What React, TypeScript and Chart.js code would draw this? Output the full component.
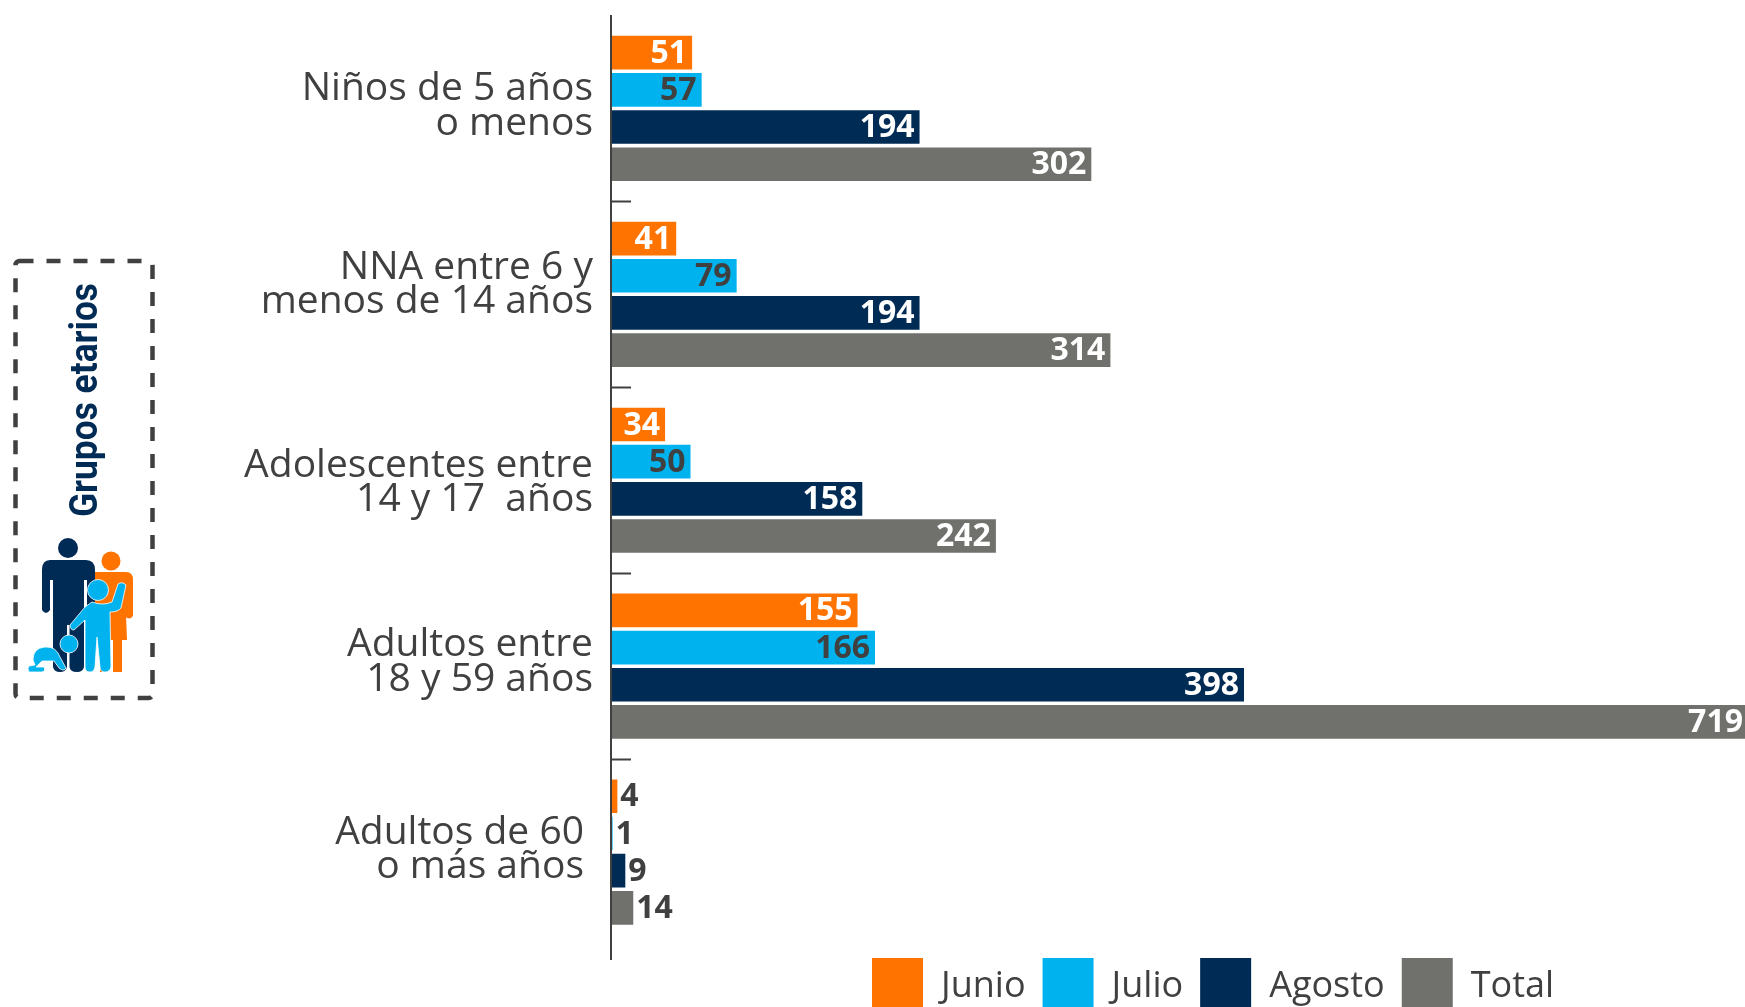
import React, { useEffect, useRef } from "react";
import { Chart, registerables } from "chart.js";

Chart.register(...registerables);

const categories = [
  ["Niños de 5 años", "o menos"],
  ["NNA entre 6 y", "menos de 14 años"],
  ["Adolescentes entre", "14 y 17  años"],
  ["Adultos entre", "18 y 59 años"],
  ["Adultos de 60", "o más años"],
];
const junio = [51, 41, 34, 155, 4];
const julio = [57, 79, 50, 166, 1];
const agosto = [194, 194, 158, 398, 9];
const total = [302, 314, 242, 719, 14];

const ORANGE = "#FF7300";
const BLUE = "#00B3EE";
const NAVY = "#002B55";
const GRAY = "#70716C";
const DARK = "#404040";
const FONT = "'Open Sans', sans-serif";

const W = 1745;
const H = 1007;
const labelDy = [-2, -9.5, 2.5, -4, -2];
const labelDx = [0, 0, 0, 0, -9];

const customLayoutPlugin = {
  id: "customLayout",
  afterLayout(chart: any) {
    const l = chart.legend;
    if (l) {
      l.left = 855;
      l.top = 941;
    }
  },
  beforeDraw(chart: any) {
    const items = chart.scales.y.getLabelItems();
    if (items.__moved) return;
    items.__moved = true;
    items.forEach((it: any, i: number) => {
      it.options.translation = [
        it.options.translation[0] + labelDx[i],
        it.options.translation[1] + labelDy[i],
      ];
    });
  },
  afterDraw(chart: any) {
    const { ctx, chartArea } = chart;
    ctx.save();
    ctx.strokeStyle = DARK;
    ctx.lineWidth = 2;
    ctx.beginPath();
    ctx.moveTo(chartArea.left, chartArea.bottom);
    ctx.lineTo(chartArea.left, 960);
    ctx.stroke();
    ctx.restore();
  },
};

const barLabelPlugin = {
  id: "barLabels",
  afterDatasetsDraw(chart: any) {
    const { ctx } = chart;
    ctx.save();
    ctx.font = `700 32px ${FONT}`;
    ctx.textBaseline = "middle";
    chart.data.datasets.forEach((ds: any, di: number) => {
      const meta = chart.getDatasetMeta(di);
      meta.data.forEach((el: any, i: number) => {
        const v = ds.data[i];
        const outside = v < 20;
        ctx.textAlign = outside ? "left" : "right";
        ctx.fillStyle = outside || ds.label === "Julio" ? DARK : "#FFFFFF";
        const x = outside ? el.x + 3 : Math.min(el.x - 5, chart.chartArea.right - 2);
        ctx.fillText(String(v), x, el.y + 1);
      });
    });
    ctx.restore();
  },
};

export default function App() {
  const ref = useRef<HTMLCanvasElement>(null);
  useEffect(() => {
    const chart = new Chart(ref.current as any, {
      type: "bar",
      data: {
        labels: categories as any,
        datasets: [
          { label: "Junio", data: junio, backgroundColor: ORANGE },
          { label: "Julio", data: julio, backgroundColor: BLUE },
          { label: "Agosto", data: agosto, backgroundColor: NAVY },
          { label: "Total", data: total, backgroundColor: GRAY },
        ],
      },
      plugins: [customLayoutPlugin, barLabelPlugin],
      options: {
        indexAxis: "y",
        responsive: false,
        animation: false,
        categoryPercentage: 0.8,
        barPercentage: 0.905,
        layout: { padding: { top: 15.5, left: 0, right: 0, bottom: -23 } },
        scales: {
          x: { display: false, min: 0, max: 713 },
          y: {
            afterFit(s: any) {
              s.width = 611;
              s.paddingTop = 0;
              s.paddingBottom = 0;
            },
            border: { display: true, color: DARK, width: 2, z: 1 },
            grid: {
              offset: true,
              drawOnChartArea: false,
              drawTicks: true,
              tickLength: -20,
              tickWidth: 2,
              tickColor: (c: any) =>
                c.type !== "tick" || c.index === 0 ? "rgba(0,0,0,0)" : DARK,
            },
            ticks: {
              autoSkip: false,
              padding: 38,
              color: DARK,
              font: { family: FONT, size: 39, lineHeight: 0.885, weight: "400" },
            },
          },
        },
        plugins: {
          tooltip: { enabled: false },
          legend: {
            position: "bottom",
            align: "start",
            labels: {
              boxWidth: 51,
              boxHeight: 58,
              padding: 17,
              color: DARK,
              font: { family: FONT, size: 36 },
            },
          },
        },
      } as any,
    });
    return () => chart.destroy();
  }, []);

  return (
    <div style={{ position: "fixed", left: 0, top: 0, width: W, height: H, overflow: "hidden", background: "#fff" }}>
      <canvas ref={ref} width={W} height={H} style={{ position: "absolute", left: 0, top: 0, display: "block" }} />
      <svg width={180} height={720} style={{ position: "absolute", left: 0, top: 0 }}>
        <rect x={15.5} y={261} width={137} height={437} rx={4} fill="none" stroke={DARK} strokeWidth={4.5} strokeDasharray="14 13" />
        <text
          transform="translate(97,517) rotate(-90)"
          fill={NAVY}
          textLength={234}
          lengthAdjust="spacingAndGlyphs"
          style={{ font: "700 38px Roboto, sans-serif" }}
        >
          Grupos etarios
        </text>
        {/* woman */}
        <g fill={ORANGE}>
          <circle cx={111} cy={561} r={9.5} />
          <path d="M95 572 H126 Q133 572 133 580 V616 Q129 621 125 616 V590 L127 640 H122 V672 H113 V640 H107 V672 H100 V640 H95 Z" />
        </g>
        {/* man */}
        <g fill={NAVY}>
          <circle cx={68} cy={548} r={10} />
          <path d="M50 560 H86 Q95 560 95 570 V610 Q91 616 87 610 V580 H84 V667 Q83 672 77 672 Q70 672 69.5 667 V625 H67 V667 Q66 672 60 672 Q54 672 53 667 V580 H50 V610 Q46 616 42 610 V570 Q42 560 50 560 Z" />
        </g>
        {/* child */}
        <g fill={BLUE} stroke="#fff" strokeWidth={0.8}>
          <circle cx={98} cy={590} r={10.5} />
          <path d="M92 602 Q103 606 112 602 L118 584 Q122 581 126 585 L121 608 Q118 612 110 612 L111 667 Q110 672 105 672 Q100 672 100 667 L97 637 L95 667 Q94 672 90 672 Q85 672 85 667 L85 620 L74 630 Q70 630 70 625 L85 607 Z" />
          <circle cx={69} cy={644} r={9} />
          <path d="M33 660 Q33 648 45 647 Q56 646 60 657 L66 668 Q64 672 59 668 L54 661 H42 L36 667 H44 Q46 671 42 672 H29 Q27 668 29 666 L35 665 Z" />
        </g>
      </svg>
    </div>
  );
}
